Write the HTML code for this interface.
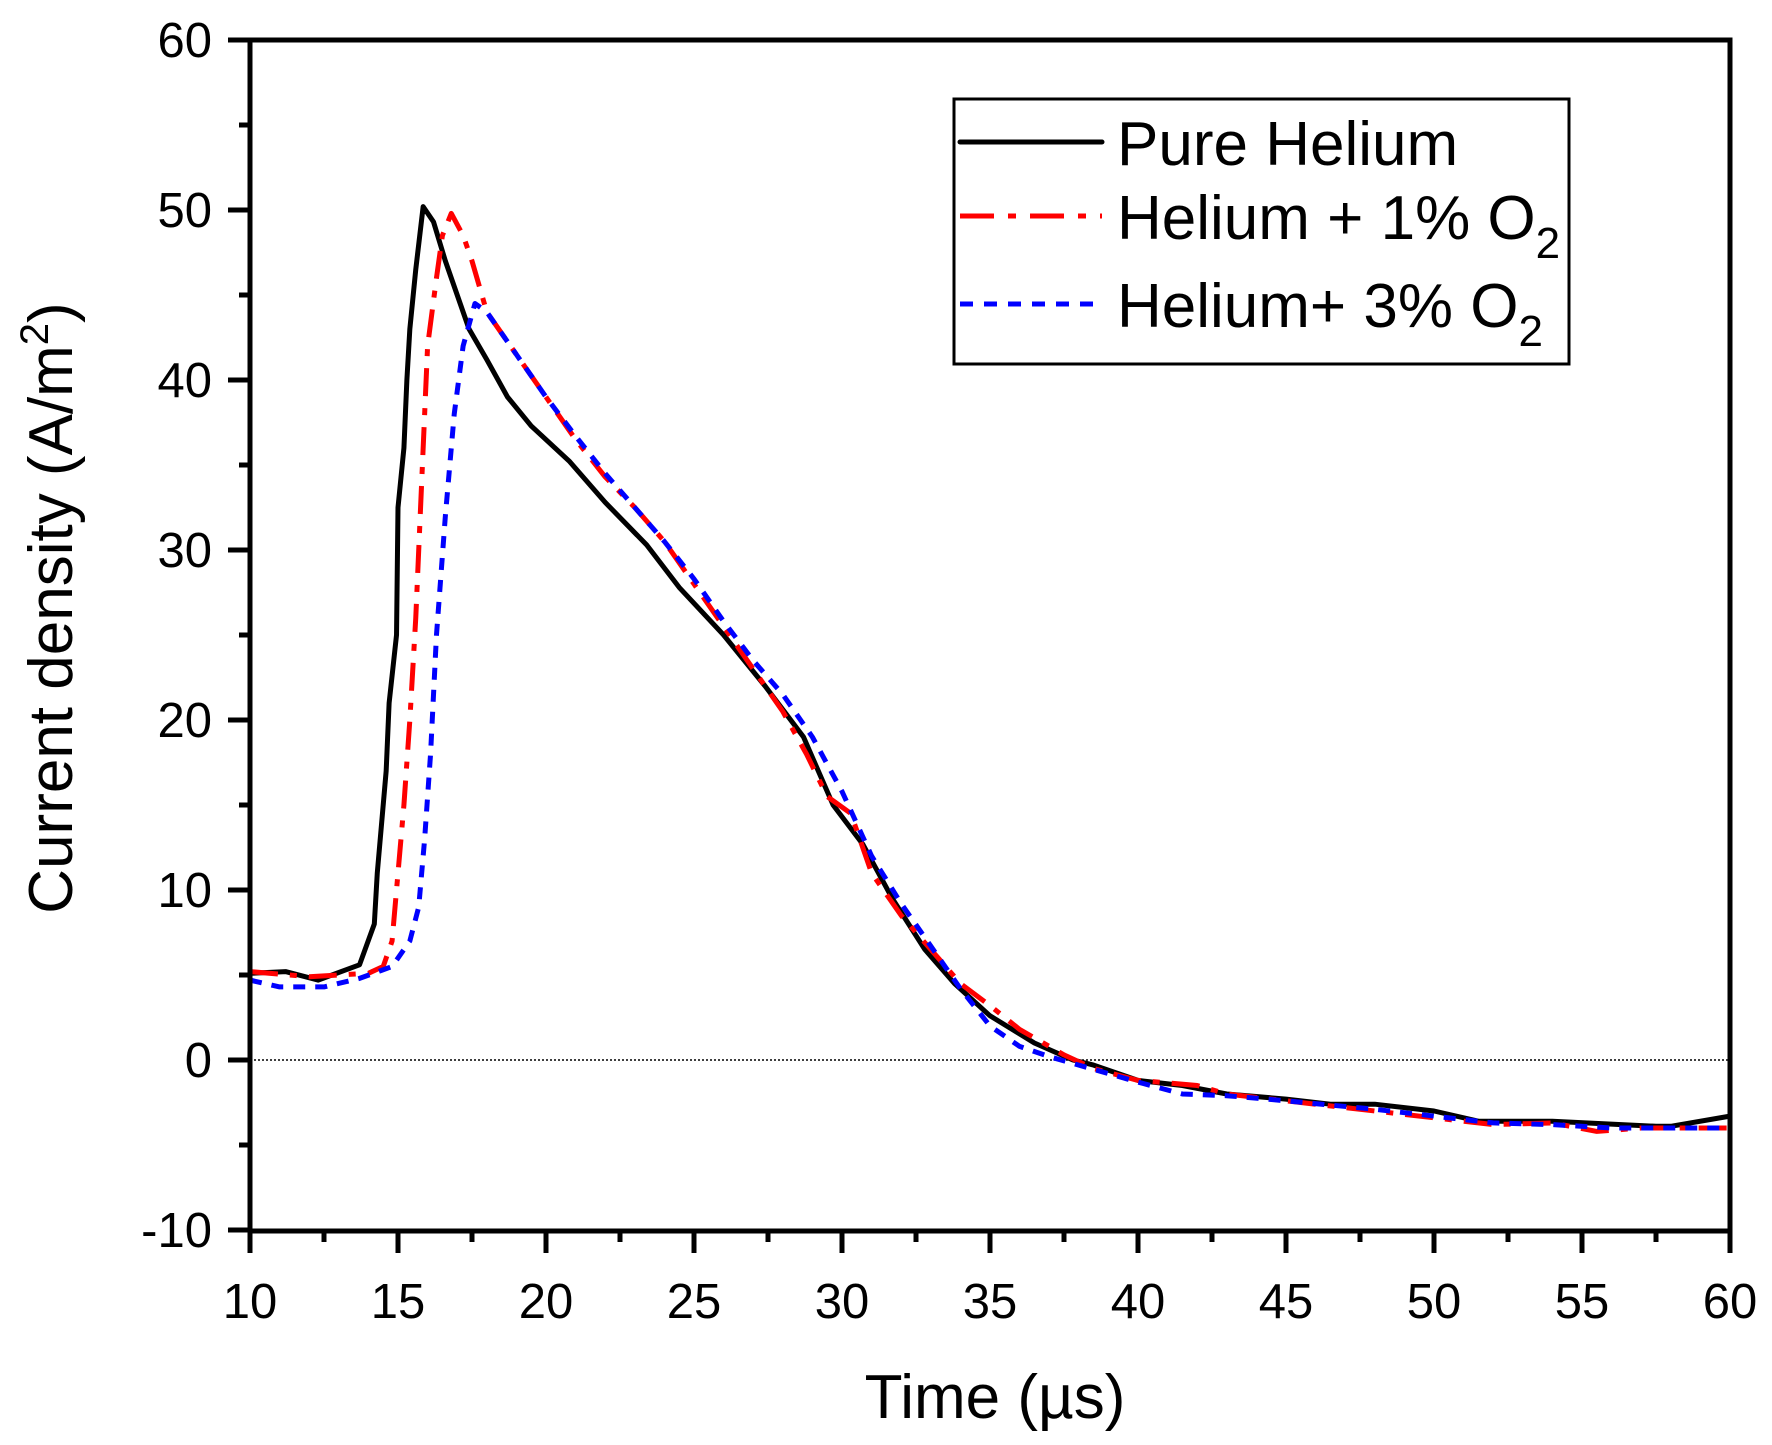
<!DOCTYPE html>
<html><head><style>html,body{margin:0;padding:0;background:#fff}svg{display:block}text{font-family:"Liberation Sans",Arial,sans-serif;fill:#000}</style></head>
<body>
<svg width="1772" height="1445" viewBox="0 0 1772 1445" xmlns="http://www.w3.org/2000/svg">
<line x1="250" y1="1060" x2="1730" y2="1060" stroke="#000" stroke-width="1.5" stroke-dasharray="2,2"/>
<g transform="translate(250,1060) scale(29.6,-17) translate(-10,0)" fill="none" stroke-linejoin="round">
<polyline vector-effect="non-scaling-stroke" stroke="#000" stroke-width="5" points="10,5.1 11.2,5.2 12.3,4.7 13.7,5.6 14.2,8 14.3,11 14.6,17 14.7,21 14.95,25 15.0,32.5 15.2,36 15.3,40 15.4,43 15.6,46.5 15.85,50.2 16.2,49.3 16.6,47 17.0,45 17.4,43 18.0,41.2 18.7,39 19.5,37.3 20.8,35.2 22,32.8 23.4,30.3 24.5,27.8 26,25 27.4,22 28.7,19 29.7,15 30.7,12.7 31.7,9.5 32.8,6.5 33.8,4.5 35,2.6 36.5,1 37.8,0 38.5,-0.3 40,-1.2 41.5,-1.5 43,-2 45,-2.3 46.5,-2.6 48,-2.6 50,-3 51.5,-3.6 54,-3.6 57.5,-3.9 58,-3.9 60,-3.3"/>
<polyline vector-effect="non-scaling-stroke" stroke="#f00" stroke-width="5" stroke-dasharray="28,12,7,12" points="10,5.2 12,4.9 14,5.1 14.5,5.5 14.8,7 15,11 15.2,15 15.4,20 15.6,26 15.8,34 16.0,42 16.3,46 16.5,48.5 16.8,49.8 17.2,48.5 17.5,47 18,44 19,41.5 20,39 21,36.5 22,34.3 23,32.5 24,30.5 25,28 26,25.5 27,23 28,20.5 28.8,18 29.5,15.5 30.3,14.5 31,11 32,8.5 33,6.5 34,4.5 35,3.2 36,1.8 37.5,0.3 38.5,-0.5 40,-1.2 42,-1.5 43,-2 45,-2.4 47,-2.8 50,-3.4 52,-3.8 54,-3.7 55.5,-4.2 57,-4 60,-4"/>
<polyline vector-effect="non-scaling-stroke" stroke="#00f" stroke-width="5" stroke-dasharray="12,10" points="10,4.7 11,4.3 12.5,4.3 13.7,4.8 14.8,5.5 15.4,7 15.7,9 15.9,13 16.1,18 16.3,25 16.6,32 16.9,38 17.2,42 17.6,44.5 18,44 19,41.5 20,39 21,36.7 22,34.5 23,32.5 24,30.5 25,28.3 26,25.8 27,23.5 28,21.5 29,19 30,15.8 31,12 32,9.2 33,6.7 34,4.2 35,2 36,0.8 37,0.2 38,-0.3 40,-1.3 41.5,-2 43,-2.1 45,-2.4 48,-2.9 50,-3.3 52,-3.7 54,-3.8 56,-4 60,-4"/>
</g>
<rect x="250" y="40" width="1480" height="1191" fill="none" stroke="#000" stroke-width="5"/>
<g stroke="#000" stroke-width="5">
<path d="M250 40h-22M250 210h-22M250 380h-22M250 550h-22M250 720h-22M250 890h-22M250 1060h-22M250 1230h-22"/>
<path d="M250 125h-11M250 295h-11M250 465h-11M250 635h-11M250 805h-11M250 975h-11M250 1145h-11"/>
<path d="M250 1231v22M398 1231v22M546 1231v22M694 1231v22M842 1231v22M990 1231v22M1138 1231v22M1286 1231v22M1434 1231v22M1582 1231v22M1730 1231v22"/>
<path d="M324 1231v11M472 1231v11M620 1231v11M768 1231v11M916 1231v11M1064 1231v11M1212 1231v11M1360 1231v11M1508 1231v11M1656 1231v11"/>
</g>
<g font-size="49" text-anchor="end">
<text x="212" y="57">60</text><text x="212" y="227">50</text><text x="212" y="397">40</text><text x="212" y="567">30</text><text x="212" y="737">20</text><text x="212" y="907">10</text><text x="212" y="1077">0</text><text x="212" y="1247">-10</text>
</g>
<g font-size="49" text-anchor="middle">
<text x="250" y="1318">10</text><text x="398" y="1318">15</text><text x="546" y="1318">20</text><text x="694" y="1318">25</text><text x="842" y="1318">30</text><text x="990" y="1318">35</text><text x="1138" y="1318">40</text><text x="1286" y="1318">45</text><text x="1434" y="1318">50</text><text x="1582" y="1318">55</text><text x="1730" y="1318">60</text>
</g>
<text x="995" y="1418" font-size="62" text-anchor="middle">Time (µs)</text>
<text transform="translate(72,608) rotate(-90)" font-size="62" text-anchor="middle">Current density (A/m<tspan font-size="40" dy="-24">2</tspan><tspan dy="24">)</tspan></text>
<rect x="954" y="99" width="615" height="265" fill="#fff" stroke="#000" stroke-width="3"/>
<line x1="960" y1="142" x2="1102" y2="142" stroke="#000" stroke-width="5" stroke-linecap="round"/>
<line x1="960" y1="216" x2="1102" y2="216" stroke="#f00" stroke-width="5" stroke-dasharray="34,14,8,14"/>
<line x1="960" y1="304" x2="1102" y2="304" stroke="#00f" stroke-width="5" stroke-dasharray="13,11"/>
<g font-size="62">
<text x="1117" y="165">Pure Helium</text>
<text x="1117" y="239">Helium + 1% O<tspan font-size="44" dy="19">2</tspan></text>
<text x="1117" y="327">Helium+ 3% O<tspan font-size="44" dy="19">2</tspan></text>
</g>
</svg>
</body></html>
